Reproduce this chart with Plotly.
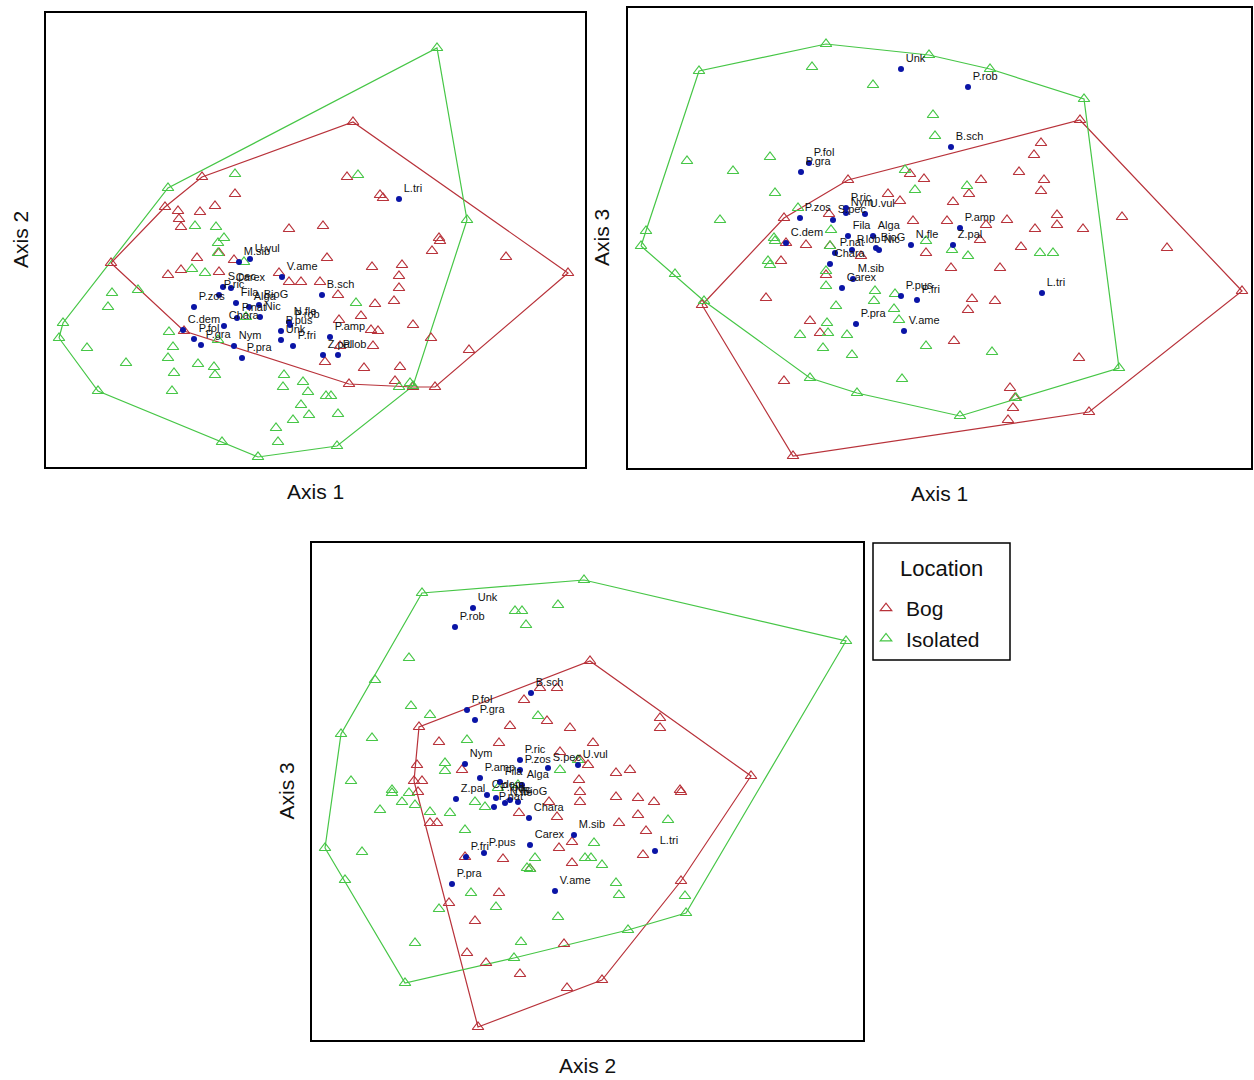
import plotly.graph_objects as go

# ---------------- DATA (ordination scores; panel-local units) ----------------
SPECIES = ["L.tri", "B.sch", "P.amp", "Z.pal", "P.lob", "M.sib", "U.vul", "V.ame", "S.pec", "Carex",
           "P.ric", "P.zos", "Fila", "Alga", "BioG", "Nic", "N.fle", "P.nat", "C.dem", "P.fol",
           "P.gra", "Chara", "Nym", "P.pra", "P.pus", "Unk", "P.fri", "P.rob"]

# Panel 1: Axis 1 (x) vs Axis 2 (y)
p1_bog_x = [202,165,178,179,181,200,215,235,289,353,347,380,383,323,439,327,372,402,399,399,394,432,440,506,568,
            320,338,375,361,339,371,378,413,431,469,373,340,325,364,400,349,395,413,435,111,168,181,197,219,234,219,184,279,289,301]
p1_bog_y = [177,207,211,219,227,212,206,194,229,122,177,195,198,226,238,258,267,265,276,288,301,251,241,257,273,
            282,295,304,316,320,330,331,325,338,350,346,346,362,368,367,384,381,387,387,263,275,270,258,253,260,272,331,273,282,282]
p1_iso_x = [168,235,195,216,224,358,437,467,218,192,205,112,108,138,63,59,87,98,126,169,173,168,198,214,215,174,172,
            222,258,276,278,293,301,309,284,283,303,308,218,246,356,399,410,413,326,331,338,337,218,244]
p1_iso_y = [188,174,226,227,238,175,48,220,243,269,273,293,307,290,323,338,348,391,363,332,347,358,364,367,375,373,391,
            442,457,428,442,420,405,415,375,387,382,392,340,317,303,387,383,386,396,396,414,446,253,262]
p1_sp_x = [399,322,330,323,338,239,250,282,223,231,219,194,236,249,259,260,289,237,183,194,201,224,234,242,281,281,293,290]
p1_sp_y = [199,295,337,355,355,262,259,277,287,288,295,307,303,307,305,317,322,318,330,339,345,326,346,358,331,340,346,325]

# Panel 2: Axis 1 (x) vs Axis 3 (y)
p2_bog_x = [1080,1041,1034,1019,981,1044,1041,969,953,947,1007,986,1035,1057,1057,1083,1122,980,1021,951,1000,1167,972,968,
            995,954,1079,1242,1010,1015,1013,1008,1089,702,766,781,786,806,830,826,861,810,820,784,926,793,910,924,848,888,900,913,829,784]
p2_bog_y = [120,143,155,172,180,180,191,194,202,221,220,225,229,215,225,229,217,240,247,268,268,248,299,310,
            301,341,358,291,388,398,408,420,412,305,298,261,243,245,246,275,256,321,333,381,253,456,174,179,180,194,201,221,214,218]
p2_iso_x = [699,826,929,990,1084,1119,1016,960,857,810,704,675,641,646,812,873,933,935,687,733,770,775,720,905,915,798,831,774,
            967,1040,1053,968,992,952,768,770,775,826,826,836,827,800,828,847,823,852,875,874,895,894,899,926,902,926,830]
p2_iso_y = [71,44,55,69,99,368,398,416,393,378,301,274,246,231,67,85,115,136,161,171,157,193,220,170,190,208,230,238,
            186,253,253,256,352,250,261,265,241,271,286,306,323,335,333,335,348,355,291,301,294,309,320,346,379,241,246]
p2_sp_x = [1042,951,960,953,852,853,865,904,833,842,846,800,848,873,876,879,911,835,786,809,801,830,846,856,901,901,917,968]
p2_sp_y = [293,147,228,245,250,279,214,331,220,288,208,218,236,236,248,250,245,253,243,163,172,264,213,324,296,69,300,87]

# Panel 3: Axis 2 (x) vs Axis 3 (y)
p3_bog_x = [419,439,417,414,422,462,499,510,524,540,557,547,570,590,560,580,579,660,660,593,751,616,630,588,680,
            437,430,465,503,499,449,475,467,486,520,530,519,557,580,559,572,572,564,567,478,580,549,
            616,638,654,681,638,619,646,643,681,602,418]
p3_bog_y = [727,742,765,781,781,770,743,726,700,688,688,721,728,661,752,760,780,718,728,743,776,773,770,765,790,
            823,823,857,859,893,903,921,953,963,974,869,813,817,802,848,842,863,944,988,1027,792,802,
            797,798,802,792,815,823,831,855,881,980,792]
p3_iso_x = [422,515,522,526,558,409,375,411,430,341,372,351,467,445,445,538,392,584,846,
            325,345,362,380,392,409,402,415,430,450,465,475,485,535,527,471,496,439,415,521,514,558,405,585,
            668,594,591,602,616,619,685,686,628,530,578,560,498,518]
p3_iso_y = [593,611,611,625,605,658,680,706,715,734,738,781,740,763,771,716,790,580,641,
            848,880,852,810,793,793,802,805,812,813,830,802,807,858,868,893,907,909,943,942,958,917,983,858,
            820,843,858,865,883,895,896,913,930,869,760,770,788,785]
p3_sp_x = [655,531,480,456,496,574,578,555,548,530,520,520,500,522,518,510,505,494,487,467,475,529,465,452,484,473,466,455]
p3_sp_y = [851,693,778,799,798,835,765,891,768,845,760,770,782,785,802,800,803,807,795,710,720,818,764,884,853,608,857,627]

LEGEND_TITLE = "Location"
GROUPS = ["Bog", "Isolated"]

# Panel frames (page layout) and axis names
PANELS = [
    dict(box=(46, 585, 13, 467), xt="Axis 1", yt="Axis 2",
         bog=(p1_bog_x, p1_bog_y), iso=(p1_iso_x, p1_iso_y), sp=(p1_sp_x, p1_sp_y)),
    dict(box=(628, 1251, 8, 468), xt="Axis 1", yt="Axis 3",
         bog=(p2_bog_x, p2_bog_y), iso=(p2_iso_x, p2_iso_y), sp=(p2_sp_x, p2_sp_y)),
    dict(box=(312, 863, 543, 1040), xt="Axis 2", yt="Axis 3",
         bog=(p3_bog_x, p3_bog_y), iso=(p3_iso_x, p3_iso_y), sp=(p3_sp_x, p3_sp_y)),
]

W, H = 1254, 1080
RED = "#b8323a"
GREEN = "#46c646"
BLUE = "#0a14a6"
FONT = "Arial, Liberation Sans"


def convex_hull(xs, ys):
    pts = sorted(set(zip(xs, ys)))
    if len(pts) < 3:
        return pts

    def cross(o, a, b):
        return (a[0] - o[0]) * (b[1] - o[1]) - (a[1] - o[1]) * (b[0] - o[0])

    lower, upper = [], []
    for p in pts:
        while len(lower) >= 2 and cross(lower[-2], lower[-1], p) <= 0:
            lower.pop()
        lower.append(p)
    for p in reversed(pts):
        while len(upper) >= 2 and cross(upper[-2], upper[-1], p) <= 0:
            upper.pop()
        upper.append(p)
    hull = lower[:-1] + upper[:-1]
    return hull + [hull[0]]


fig = go.Figure()
annotations = []

for i, pnl in enumerate(PANELS, start=1):
    xa = "x" if i == 1 else f"x{i}"
    ya = "y" if i == 1 else f"y{i}"
    l, r, t, b = pnl["box"]
    groups = [(pnl["bog"], RED, GROUPS[0]), (pnl["iso"], GREEN, GROUPS[1])]
    for (gx, gy), col, name in groups:
        hull = convex_hull(gx, gy)
        fig.add_trace(go.Scatter(x=[p[0] for p in hull], y=[p[1] for p in hull], mode="lines",
                                 line=dict(color=col, width=1.2), showlegend=False,
                                 hoverinfo="skip", xaxis=xa, yaxis=ya))
    for (gx, gy), col, name in groups:
        fig.add_trace(go.Scatter(x=gx, y=gy, mode="markers", name=name,
                                 marker=dict(symbol="triangle-up-open", size=10, color=col,
                                             line=dict(width=1.2, color=col)),
                                 showlegend=(i == 1), legendgroup=name, xaxis=xa, yaxis=ya))
    sx, sy = pnl["sp"]
    fig.add_trace(go.Scatter(x=sx, y=sy, mode="markers+text", text=SPECIES,
                             textposition="top right",
                             textfont=dict(family=FONT, size=11, color="#111"),
                             marker=dict(symbol="circle", size=6, color=BLUE),
                             showlegend=False, xaxis=xa, yaxis=ya))

    common = dict(showgrid=False, zeroline=False, showticklabels=False, ticks="",
                  showline=True, mirror=True, linecolor="black", linewidth=2)
    fig.layout[("xaxis" if i == 1 else f"xaxis{i}")] = dict(
        domain=[l / W, r / W], range=[l, r], anchor=ya, **common)
    fig.layout[("yaxis" if i == 1 else f"yaxis{i}")] = dict(
        domain=[1 - b / H, 1 - t / H], range=[b, t], anchor=xa, **common)

    annotations.append(dict(text=pnl["xt"], x=(l + r) / 2 / W, y=1 - (b + 25) / H, xref="paper", yref="paper",
                            showarrow=False, xanchor="center", yanchor="middle",
                            font=dict(family=FONT, size=21, color="#111")))
    annotations.append(dict(text=pnl["yt"], x=(l - 26) / W, y=1 - (t + b) / 2 / H, xref="paper", yref="paper",
                            showarrow=False, xanchor="center", yanchor="middle", textangle=-90,
                            font=dict(family=FONT, size=21, color="#111")))

# legend box + title (drawn so that the spacing matches the reference)
annotations.append(dict(text=LEGEND_TITLE, x=941 / W, y=1 - 568 / H, xref="paper", yref="paper",
                        showarrow=False, xanchor="center", yanchor="middle",
                        font=dict(family=FONT, size=22, color="#111")))

fig.update_layout(
    width=W, height=H, margin=dict(l=0, r=0, t=0, b=0),
    paper_bgcolor="white", plot_bgcolor="white",
    annotations=annotations,
    shapes=[dict(type="rect", xref="paper", yref="paper", x0=873 / W, x1=1010 / W,
                 y0=1 - 660 / H, y1=1 - 543 / H, line=dict(color="black", width=1.5))],
    legend=dict(x=866 / W, y=1 - 588 / H, xanchor="left", yanchor="top",
                borderwidth=0, bgcolor="rgba(0,0,0,0)",
                font=dict(family=FONT, size=21, color="#111"),
                itemwidth=30, tracegroupgap=0),
)

fig.write_html("out.html")
